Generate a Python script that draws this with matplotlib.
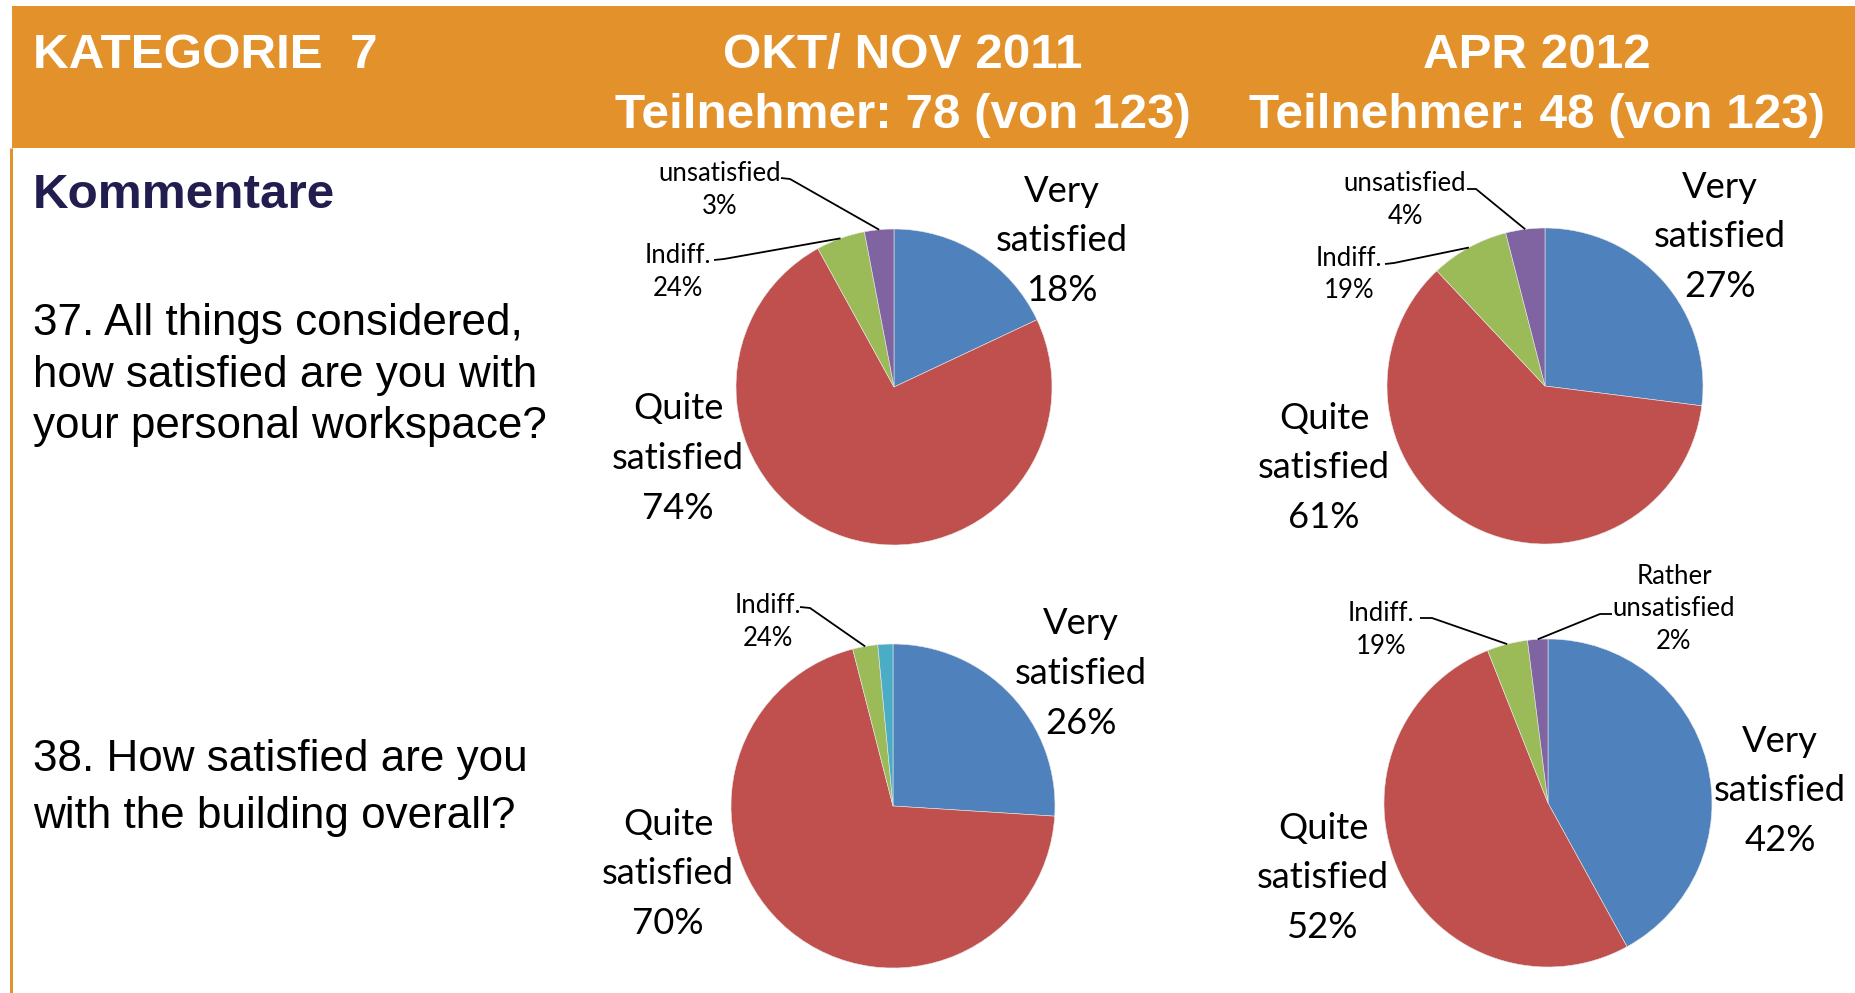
import numpy as np
import matplotlib
matplotlib.use("Agg")
import matplotlib.pyplot as plt
from matplotlib.patches import Rectangle

# ---------------- data ----------------
category = "KATEGORIE  7"
section = "Kommentare"
periods = ["OKT/ NOV 2011", "APR 2012"]
participants = [78, 48]
total_participants = 123
questions = [
    ["37. All things considered,", "how satisfied are you with", "your personal workspace?"],
    ["38. How satisfied are you", "with the building overall?"],
]

# slice sizes (clockwise from 12 o'clock): very, quite, indifferent, unsatisfied
q37_2011 = [18, 74, 5, 3]
q37_2012 = [27, 61, 8, 4]
q38_2011 = [26, 70, 2.5, 1.5]
q38_2012 = [42, 52, 4, 2]

# label names and the percentages printed on the chart
q37_2011_names = [["Very", "satisfied"], ["Quite", "satisfied"], ["Indiff."], ["unsatisfied"]]
q37_2011_pct = [18, 74, 24, 3]
q37_2012_names = [["Very", "satisfied"], ["Quite", "satisfied"], ["Indiff."], ["unsatisfied"]]
q37_2012_pct = [27, 61, 19, 4]
q38_2011_names = [["Very", "satisfied"], ["Quite", "satisfied"], ["Indiff."], None]
q38_2011_pct = [26, 70, 24, None]
q38_2012_names = [["Very", "satisfied"], ["Quite", "satisfied"], ["Indiff."], ["Rather", "unsatisfied"]]
q38_2012_pct = [42, 52, 19, 2]

# ---------------- style ----------------
W, H = 1856, 993
ORANGE = "#E3912A"
NAVY = "#211D4E"
BLUE, RED, GREEN, PURPLE, CYAN = "#4F81BD", "#C0504D", "#9BBB59", "#8064A2", "#4BACC6"
HEAD_FONT = "Liberation Sans"
PIE_FONT = "Lato"

fig = plt.figure(figsize=(W / 100, H / 100), dpi=100)
fig.patch.set_facecolor("white")
ax = fig.add_axes([0, 0, 1, 1])


def Y(y):
    return H - y


def px2pt(px):
    return px * 72 / 100


def text_lines(x, cy, lines, size, spacing, ha="center", cap=0.72, **kw):
    n = len(lines)
    em = size * 100 / 72
    for i, line in enumerate(lines):
        yc = cy + (i - (n - 1) / 2) * spacing
        ax.text(x, Y(yc + cap * em / 2), line, ha=ha, va="baseline", fontsize=size, **kw)


# header band and left border
ax.add_patch(Rectangle((12, Y(148)), W - 12, 142, facecolor=ORANGE, edgecolor="none", zorder=0))
ax.plot([11, 11], [Y(148), Y(H)], color=ORANGE, lw=px2pt(3), solid_capstyle="butt", zorder=0)

hsize = 35.6
text_lines(33, 50, [category], hsize, 0, ha="left", cap=0.716, color="white",
           fontweight="bold", family=HEAD_FONT)
col_x = [903, 1537]
for cx, per, n in zip(col_x, periods, participants):
    text_lines(cx, 50, [per], hsize, 0, cap=0.716, color="white", fontweight="bold", family=HEAD_FONT)
    text_lines(cx, 110, [f"Teilnehmer: {n} (von {total_participants})"], hsize, 0, cap=0.716,
               color="white", fontweight="bold", family=HEAD_FONT)

text_lines(33, 190, [section], hsize, 0, ha="left", cap=0.716, color=NAVY,
           fontweight="bold", family=HEAD_FONT)
text_lines(33, 371, questions[0], 31.7, 51.5, ha="left", cap=0.716, color="black", family=HEAD_FONT)
text_lines(33, 783.5, questions[1], 31.7, 56.5, ha="left", cap=0.716, color="black", family=HEAD_FONT)

# ---------------- pies ----------------
pies = [
    dict(vals=q37_2011, names=q37_2011_names, pct=q37_2011_pct, c=(894, 387), r=158,
         colors=[BLUE, RED, GREEN, PURPLE],
         big=[(1062, 238), (678, 456)],
         small={2: ((678, 270), [(714, 260), (724, 259)]),
                3: ((720, 188), [(781, 178), (790, 179)])}),
    dict(vals=q37_2012, names=q37_2012_names, pct=q37_2012_pct, c=(1545, 386), r=158,
         colors=[BLUE, RED, GREEN, PURPLE],
         big=[(1720, 234), (1324, 465)],
         small={2: ((1349, 273), [(1385, 264), (1394, 263)]),
                3: ((1405, 198), [(1467, 189), (1476, 189)])}),
    dict(vals=q38_2011, names=q38_2011_names, pct=q38_2011_pct, c=(893, 806), r=162,
         colors=[BLUE, RED, GREEN, CYAN],
         big=[(1081, 671), (668, 871)],
         small={2: ((768, 620), [(800, 607), (810, 608)])}),
    dict(vals=q38_2012, names=q38_2012_names, pct=q38_2012_pct, c=(1548, 803), r=164,
         colors=[BLUE, RED, GREEN, PURPLE],
         big=[(1780, 788), (1323, 875)],
         small={2: ((1381, 628), [(1420, 618), (1432, 618)]),
                3: ((1674, 607), [(1612, 614), (1600, 614)])}),
]

BIG_SIZE, BIG_SP = 26.2, 49.6
SMALL_SIZE, SMALL_SP = 18.5, 32.5

for p in pies:
    cx, cy = p["c"]
    wedges, _ = ax.pie(p["vals"], colors=p["colors"], startangle=90, counterclock=False,
                       center=(cx, Y(cy)), radius=p["r"],
                       wedgeprops=dict(edgecolor="#e8e8e8", linewidth=0.4))
    for i, pos in enumerate(p["big"]):
        lines = p["names"][i] + [f"{p['pct'][i]}%"]
        text_lines(pos[0], pos[1], lines, BIG_SIZE, BIG_SP, family=PIE_FONT, color="black")
    for i, (pos, tail) in p["small"].items():
        lines = p["names"][i] + [f"{p['pct'][i]}%"]
        text_lines(pos[0], pos[1], lines, SMALL_SIZE, SMALL_SP, family=PIE_FONT, color="black")
        w = wedges[i]
        mid = np.deg2rad((w.theta1 + w.theta2) / 2)
        tx = cx + p["r"] * np.cos(mid)
        ty = Y(cy) + p["r"] * np.sin(mid)
        xs = [tail[0][0], tail[1][0], tx]
        ys = [Y(tail[0][1]), Y(tail[1][1]), ty]
        ax.plot(xs, ys, color="black", lw=1.3, solid_capstyle="butt", zorder=5)

ax.set_xlim(0, W)
ax.set_ylim(0, H)
ax.set_aspect("auto")
ax.axis("off")

fig.savefig("out.png", dpi=100, facecolor="white")
